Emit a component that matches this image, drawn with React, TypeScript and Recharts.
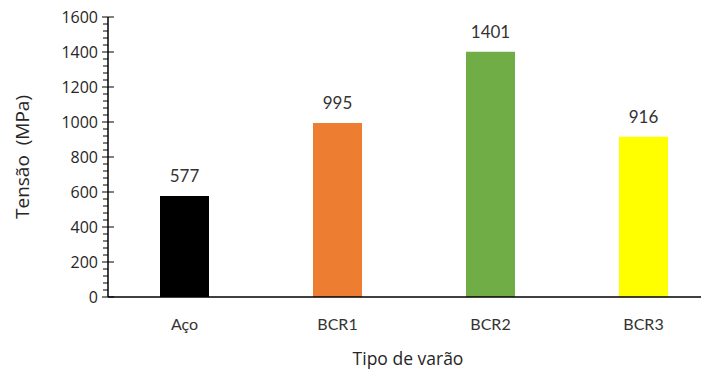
import { BarChart, Bar, XAxis, YAxis, Cell, LabelList } from 'recharts';

const categories = ['Aço', 'BCR1', 'BCR2', 'BCR3'];
const tensao = [577, 995, 1401, 916];
const barColors = ['#000000', '#ED7D31', '#70AD47', '#FFFF00'];
const yTicks = Array.from({ length: 41 }, (_, i) => i * 40);

const data = categories.map((tipo, i) => ({ tipo, tensao: tensao[i] }));

const YTick = (props: any) => {
  const { x, y, payload } = props;
  const v = payload.value as number;
  if (v % 200 !== 0) {
    return <line x1={x - 5} x2={x} y1={y} y2={y} stroke="#000" strokeWidth={1} />;
  }
  return (
    <g>
      <line x1={x - 6} x2={x + 6} y1={y} y2={y} stroke="#000" strokeWidth={1} />
      <text x={x - 10} y={y} dy={6} textAnchor="end" fill="#262626" fontSize={16} fontFamily="'Open Sans', sans-serif">
        {v}
      </text>
    </g>
  );
};

export default function App() {
  return (
    <div style={{ margin: '-8px 0 0 -8px', width: 709, height: 369, overflow: 'hidden', background: '#fff' }}>
      <BarChart width={720} height={369} data={data} margin={{ top: 17, right: 0, bottom: 0, left: 0 }}>
        <XAxis
          dataKey="tipo"
          height={72}
          tickLine={false}
          tickSize={0}
          tickMargin={22}
          axisLine={{ stroke: '#000', strokeWidth: 1.5 }}
          tick={{ fill: '#333', fontSize: 16, fontWeight: 400, fontFamily: 'Lato, sans-serif' }}
          label={{
            value: 'Tipo de varão',
            position: 'insideBottom',
            offset: 4,
            dx: -6,
            fill: '#262626',
            fontSize: 17.5,
            fontFamily: "'Open Sans', sans-serif",
          }}
        />
        <YAxis
          width={108}
          domain={[0, 1600]}
          ticks={yTicks}
          interval={0}
          tickLine={false}
          tickSize={0}
          tickMargin={0}
          axisLine={{ stroke: '#000', strokeWidth: 1.5 }}
          tick={<YTick />}
          label={{
            value: 'Tensão\u00a0\u00a0(MPa)',
            angle: -90,
            position: 'insideLeft',
            offset: 22,
            style: { textAnchor: 'middle' },
            fill: '#262626',
            fontSize: 19,
            fontFamily: "'Open Sans', sans-serif",
          }}
        />
        <Bar dataKey="tensao" barSize={49} isAnimationActive={false}>
          {data.map((row, i) => (
            <Cell key={row.tipo} fill={barColors[i]} />
          ))}
          <LabelList
            dataKey="tensao"
            position="top"
            offset={14}
            fill="#333"
            fontSize={17}
            fontWeight={400}
            fontFamily="Lato, sans-serif"
          />
        </Bar>
      </BarChart>
    </div>
  );
}
